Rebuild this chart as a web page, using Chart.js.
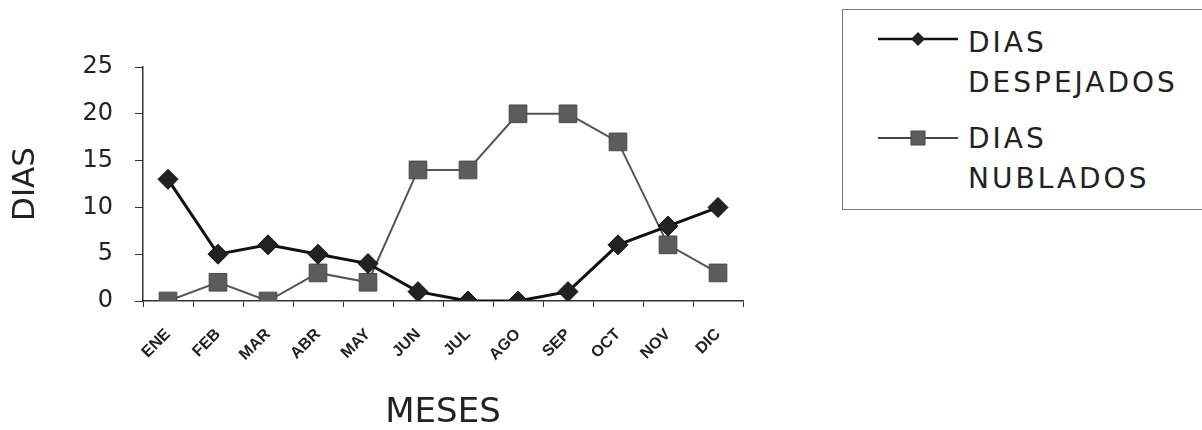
<!DOCTYPE html>
<html>
<head>
<meta charset="utf-8">
<script src="https://cdn.jsdelivr.net/npm/chart.js@4"></script>
<style>
    body { margin: 0; background: #fff; }
    #wrap { position: relative; width: 1202px; height: 430px; overflow: hidden; }
    #legend {
        position: absolute; left: 842px; top: 9px; width: 380px; height: 201px;
        border: 1px solid #777; box-sizing: border-box; background: #fff;
        font-family: "DejaVu Sans", sans-serif; font-size: 28px; color: #222;
        letter-spacing: 3px;
    }
    .mark { position: absolute; left: 35px; }
    .txt { position: absolute; left: 125px; line-height: 40px; white-space: nowrap; }
</style>
</head>
<body>
<div id="wrap">
    <canvas id="lineChart" width="1202" height="430"></canvas>
    <div id="legend">
        <svg class="mark" style="top:19px" width="80" height="20"><line x1="0" y1="10" x2="80" y2="10" stroke="#111" stroke-width="2.5"/><polygon points="40,3 47,10 40,17 33,10" fill="#222"/></svg>
        <div class="txt" style="top:13px">DIAS<br>DESPEJADOS</div>
        <svg class="mark" style="top:118px" width="80" height="20"><line x1="0" y1="10" x2="80" y2="10" stroke="#444" stroke-width="2"/><rect x="33" y="3" width="14" height="14" fill="#5c5c5c" stroke="#444"/></svg>
        <div class="txt" style="top:109px">DIAS<br>NUBLADOS</div>
    </div>
</div>
<script>
const meses = ["ENE", "FEB", "MAR", "ABR", "MAY", "JUN", "JUL", "AGO", "SEP", "OCT", "NOV", "DIC"];
const diasDespejados = [13, 5, 6, 5, 4, 1, 0, 0, 1, 6, 8, 10];
const diasNublados = [0, 2, 0, 3, 2, 14, 14, 20, 20, 17, 6, 3];
const yTicks = [0, 5, 10, 15, 20, 25];

const ctx = document.getElementById("lineChart").getContext("2d");

new Chart(ctx, {
    type: "line",
    data: {
        labels: meses,
        datasets: [
            {
                label: "DIAS DESPEJADOS",
                data: diasDespejados,
                borderColor: "#111",
                backgroundColor: "#222",
                borderWidth: 3,
                pointStyle: "rectRot",
                pointRadius: 10,
                pointBorderWidth: 1,
                tension: 0
            },
            {
                label: "DIAS NUBLADOS",
                data: diasNublados,
                borderColor: "#555",
                backgroundColor: "#5c5c5c",
                borderWidth: 2,
                pointStyle: "rect",
                pointRadius: 12.5,
                pointBorderColor: "#4a4a4a",
                pointBorderWidth: 1,
                tension: 0
            }
        ]
    },
    options: {
        responsive: false,
        animation: false,
        layout: { padding: { left: 0, top: 67, right: 459, bottom: 0 } },
        plugins: { legend: { display: false }, tooltip: { enabled: false } },
        scales: {
            x: {
                offset: true,
                grid: { offset: true, drawOnChartArea: false, color: "#333", tickLength: 6 },
                border: { color: "#333", width: 1.5 },
                ticks: {
                    color: "#222",
                    font: { family: "Liberation Sans", size: 16, weight: "bold" },
                    minRotation: 45, maxRotation: 45, padding: 18
                },
                title: {
                    display: true, text: "MESES", color: "#222",
                    font: { family: "DejaVu Sans", size: 34 },
                    padding: { top: 0, bottom: -4 }
                },
                afterFit: (scale) => { scale.height = 129; }
            },
            y: {
                min: 0, max: 25,
                afterBuildTicks: (scale) => { scale.ticks = yTicks.map(v => ({ value: v })); },
                grid: { drawOnChartArea: false, color: "#333", tickLength: 8 },
                border: { color: "#333", width: 1.5 },
                ticks: {
                    color: "#222",
                    font: { family: "DejaVu Sans", size: 24 },
                    padding: 22
                },
                title: {
                    display: true, text: "DIAS", color: "#222",
                    font: { family: "DejaVu Sans", size: 31 },
                    padding: { top: 7, bottom: 0 }
                },
                afterFit: (scale) => { scale.width = 143; }
            }
        }
    }
});
</script>
</body>
</html>
